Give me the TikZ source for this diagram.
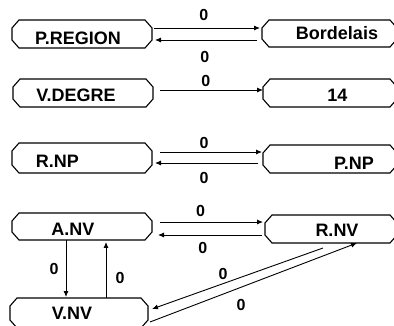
\documentclass[tikz,border=0pt]{standalone}
\usepackage{fontspec}
\setmainfont{Liberation Sans}
\usetikzlibrary{arrows.meta}

% outline with cut corners drawn round a named box node
\newcommand\chambox[1]{%
  \draw[boxline] ([xshift=7pt]#1.north west) -- ([xshift=-7pt]#1.north east)
    -- ([yshift=-8pt]#1.north east) -- ([yshift=8pt]#1.south east)
    -- ([xshift=-7pt]#1.south east) -- ([xshift=7pt]#1.south west)
    -- ([yshift=8pt]#1.south west) -- ([yshift=-8pt]#1.north west) -- cycle;}

\begin{document}
\begin{tikzpicture}[x=1pt,y=-1pt,
  boxnode/.style={draw=none,inner sep=0pt,outer sep=0pt},
  boxline/.style={line width=1.1pt,black,line join=miter},
  boxtext/.style={font=\fontsize{18}{18}\selectfont\bfseries,inner sep=0pt,anchor=center},
  lbl/.style={font=\fontsize{16}{16}\selectfont\bfseries,inner sep=0pt},
  arr/.style={line width=0.9pt,-{Latex[length=6pt,width=5pt]}}]
\useasboundingbox (0,0) rectangle (394,326);

% left column
\node[boxnode,minimum width=140pt,minimum height=28pt,
  label={[boxtext,xshift=-4pt,yshift=-4.5pt]center:P.REGION}] (PR) at (82,34) {};
\node[boxnode,minimum width=140pt,minimum height=28pt,
  label={[boxtext,xshift=-7pt,yshift=-2pt]center:V.DEGRE}] (VD) at (83,93) {};
\node[boxnode,minimum width=140pt,minimum height=30pt,
  label={[boxtext,xshift=-24.5pt,yshift=-3.5pt]center:R.NP}] (RNP) at (82,158) {};
\node[boxnode,minimum width=140pt,minimum height=27pt,
  label={[boxtext,xshift=-9pt,yshift=-2.5pt]center:A.NV}] (ANV) at (82,226.5) {};
\node[boxnode,minimum width=138pt,minimum height=30pt,
  label={[boxtext,xshift=-7pt,yshift=0pt]center:V.NV}] (VNV) at (79,313) {};

% right column
\node[boxnode,minimum width=135pt,minimum height=27pt,
  label={[boxtext,xshift=7.5pt,yshift=0.5pt]center:Bordelais}] (BOR) at (329.5,33.5) {};
\node[boxnode,minimum width=134pt,minimum height=28pt,
  label={[boxtext,xshift=7.5pt,yshift=-2pt]center:14}] (FT) at (330,93) {};
\node[boxnode,minimum width=134pt,minimum height=28pt,
  label={[boxtext,xshift=24pt,yshift=-4pt]center:P.NP}] (PNP) at (330,159) {};
\node[boxnode,minimum width=132pt,minimum height=28pt,
  label={[boxtext,xshift=6pt,yshift=-1pt]center:R.NV}] (RNV) at (331,229) {};

\foreach \b in {PR,VD,RNP,ANV,VNV,BOR,FT,PNP,RNV} {\chambox{\b}}

% P.REGION <-> Bordelais
\draw[arr,shorten <=2pt,shorten >=2pt] ([yshift=6pt]PR.east) -- ([yshift=6pt]PR.east -| BOR.west)
  node[lbl,pos=0.47,yshift=13pt] {0};
\draw[arr,shorten <=5pt,shorten >=3pt] ([yshift=-6pt]PR.east -| BOR.west) -- ([yshift=-6pt]PR.east)
  node[lbl,pos=0.52,yshift=-17pt] {0};

% V.DEGRE -> 14
\draw[arr,shorten <=7pt] ([yshift=3pt]VD.east) -- ([yshift=3pt]VD.east -| FT.west)
  node[lbl,pos=0.48,yshift=9pt] {0};

% R.NP <-> P.NP
\draw[arr,shorten <=8pt,shorten >=1pt] ([yshift=6pt]RNP.east) -- ([yshift=6pt]RNP.east -| PNP.west)
  node[lbl,pos=0.47,yshift=9pt] {0};
\draw[arr,shorten <=5pt,shorten >=3pt] ([yshift=-5pt]RNP.east -| PNP.west) -- ([yshift=-5pt]RNP.east)
  node[lbl,pos=0.53,yshift=-14.5pt] {0};

% A.NV <-> R.NV
\draw[arr,shorten <=8pt,shorten >=2pt] ([yshift=4.5pt]ANV.east) -- ([yshift=4.5pt]ANV.east -| RNV.west)
  node[lbl,pos=0.43,yshift=11pt] {0};
\draw[arr,shorten <=3pt,shorten >=6pt] ([yshift=-8.5pt]ANV.east -| RNV.west) -- ([yshift=-8.5pt]ANV.east)
  node[lbl,pos=0.55,yshift=-13pt] {0};

% A.NV <-> V.NV
\draw[arr,shorten >=1pt] ([xshift=-16pt]ANV.south) -- ([xshift=-16pt]ANV.south |- VNV.north)
  node[lbl,midway,xshift=-12pt] {0};
\draw[arr,shorten >=2pt] ([xshift=24pt]ANV.south |- VNV.north) -- ([xshift=24pt]ANV.south)
  node[lbl,pos=0.35,xshift=14pt] {0};

% R.NV <-> V.NV
\draw[arr] ([xshift=-8pt,yshift=-5pt]RNV.south) -- ([xshift=4pt,yshift=4pt]VNV.east)
  node[lbl,pos=0.585,yshift=10pt] {0};
\draw[arr] ([xshift=2pt,yshift=-9pt]VNV.east) -- ([xshift=26pt]RNV.south)
  node[lbl,pos=0.44,yshift=-18pt] {0};
\end{tikzpicture}
\end{document}
